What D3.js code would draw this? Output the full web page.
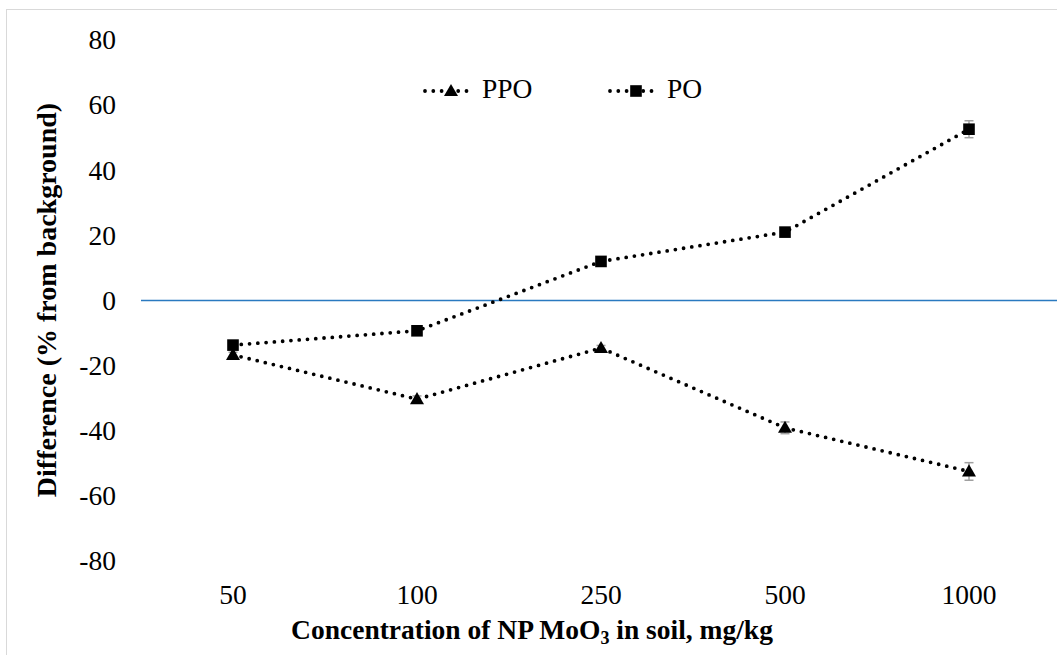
<!DOCTYPE html>
<html>
<head>
<meta charset="utf-8">
<script src="https://cdn.jsdelivr.net/npm/d3@7"></script>
<style>
  html, body { margin: 0; padding: 0; background: #fff; }
  svg { display: block; }
  svg text { font-family: "Liberation Serif", "Times New Roman", serif; }
</style>
</head>
<body>
<svg id="chart" width="1057" height="655"></svg>
<script>
// Concentrations of MoO3 nanoparticles (category axis)
const categories = ["50", "100", "250", "500", "1000"];
// Enzyme activity difference, % from background
const ppoValues = [-16.7, -30.3, -14.6, -39.1, -52.5];
const poValues = [-13.7, -9.3, 12.0, 21.0, 52.6];
// Standard errors
const ppoErrors = [0.8, 1.0, 0.8, 1.8, 2.7];
const poErrors = [0.8, 0.8, 1.0, 1.2, 2.6];
const yTicks = [-80, -60, -40, -20, 0, 20, 40, 60, 80];

const FONT = "Liberation Serif";
const FS = 27.5;

const svg = d3.select("#chart");
const W = 1057, H = 655;

// outer chart frame
svg.append("rect")
  .attr("x", 6.5).attr("y", 9.5)
  .attr("width", W + 20).attr("height", H + 20)
  .attr("fill", "#fff").attr("stroke", "#d9d9d9").attr("stroke-width", 1);

const x = d3.scaleBand().domain(categories).range([141, 1061]).padding(0);
const y = d3.scaleLinear().domain([-80, 80]).range([561, 40]);
const cx = c => x(c) + x.bandwidth() / 2;

// y axis labels (plain hyphen for negatives)
const yAxis = d3.axisLeft(y).tickValues(yTicks).tickSize(0).tickPadding(0).tickFormat(d => String(d));
const yg = svg.append("g").attr("transform", "translate(116,0)").call(yAxis);
yg.attr("font-family", FONT);
yg.select(".domain").remove();
yg.selectAll("text").style("font-family", FONT).attr("font-size", FS).attr("fill", "#000").attr("dy", "0.32em");

// x axis labels
const xAxis = d3.axisBottom(x).tickSize(0).tickPadding(0);
const xg = svg.append("g").attr("transform", "translate(0,604)").call(xAxis);
xg.attr("font-family", FONT);
xg.select(".domain").remove();
xg.selectAll("text").style("font-family", FONT).attr("font-size", FS).attr("fill", "#000").attr("y", 0).attr("dy", 0);

// zero reference line
svg.append("line")
  .attr("x1", 141).attr("x2", 1061)
  .attr("y1", y(0)).attr("y2", y(0))
  .attr("stroke", "#2a7ac0").attr("stroke-width", 1.6);

const line = d3.line().x((d, i) => cx(categories[i])).y(d => y(d));

function marker(shape) {
  return d3.symbol()
    .type(shape === "triangle" ? d3.symbolTriangle : d3.symbolSquare)
    .size(shape === "triangle" ? 85 : 135);
}

function drawSeries(values, errors, shape) {
  svg.append("path")
    .datum(values)
    .attr("d", line)
    .attr("fill", "none")
    .attr("stroke", "#000")
    .attr("stroke-width", 3.8)
    .attr("stroke-linecap", "round")
    .attr("stroke-dasharray", "0 8.3");

  const eb = svg.append("g").attr("stroke", "#a0a0a0").attr("stroke-width", 1.5);
  values.forEach((v, i) => {
    const px = cx(categories[i]);
    const top = y(v + errors[i]), bot = y(v - errors[i]);
    eb.append("line").attr("x1", px).attr("x2", px).attr("y1", top).attr("y2", bot);
    eb.append("line").attr("x1", px - 4.5).attr("x2", px + 4.5).attr("y1", top).attr("y2", top);
    eb.append("line").attr("x1", px - 4.5).attr("x2", px + 4.5).attr("y1", bot).attr("y2", bot);
  });

  svg.append("g").selectAll("path")
    .data(values)
    .join("path")
    .attr("d", marker(shape))
    .attr("transform", (d, i) => `translate(${cx(categories[i])},${y(d) + (shape === "triangle" ? 1 : 0)})`)
    .attr("fill", "#000");
}

drawSeries(ppoValues, ppoErrors, "triangle");
drawSeries(poValues, poErrors, "square");

// legend
const legendItems = [
  { name: "PPO", shape: "triangle", x0: 425, x1: 470, mx: 451, tx: 482 },
  { name: "PO", shape: "square", x0: 610, x1: 656, mx: 636, tx: 667 }
];
const ly = 91;
legendItems.forEach(it => {
  svg.append("line")
    .attr("x1", it.x0).attr("x2", it.x1).attr("y1", ly).attr("y2", ly)
    .attr("stroke", "#000").attr("stroke-width", 3.8)
    .attr("stroke-linecap", "round").attr("stroke-dasharray", "0 8.3");
  svg.append("path").attr("d", marker(it.shape))
    .attr("transform", `translate(${it.mx},${ly + (it.shape === "triangle" ? 1 : 0)})`)
    .attr("fill", "#000");
  svg.append("text")
    .attr("x", it.tx).attr("y", 98)
    .attr("font-size", FS).attr("fill", "#000")
    .text(it.name);
});

// axis titles
const xt = svg.append("text")
  .attr("x", 532).attr("y", 639)
  .attr("text-anchor", "middle")
  .attr("font-size", FS).attr("font-weight", "bold").attr("fill", "#000");
xt.append("tspan").text("Concentration of NP MoO");
xt.append("tspan").attr("font-size", 18).attr("dy", 5).text("3");
xt.append("tspan").attr("dy", -5).text(" in soil, mg/kg");

svg.append("text")
  .attr("transform", "translate(56,300) rotate(-90)")
  .attr("text-anchor", "middle")
  .attr("font-size", 28).attr("font-weight", "bold").attr("fill", "#000")
  .text("Difference (% from background)");
</script>
</body>
</html>
